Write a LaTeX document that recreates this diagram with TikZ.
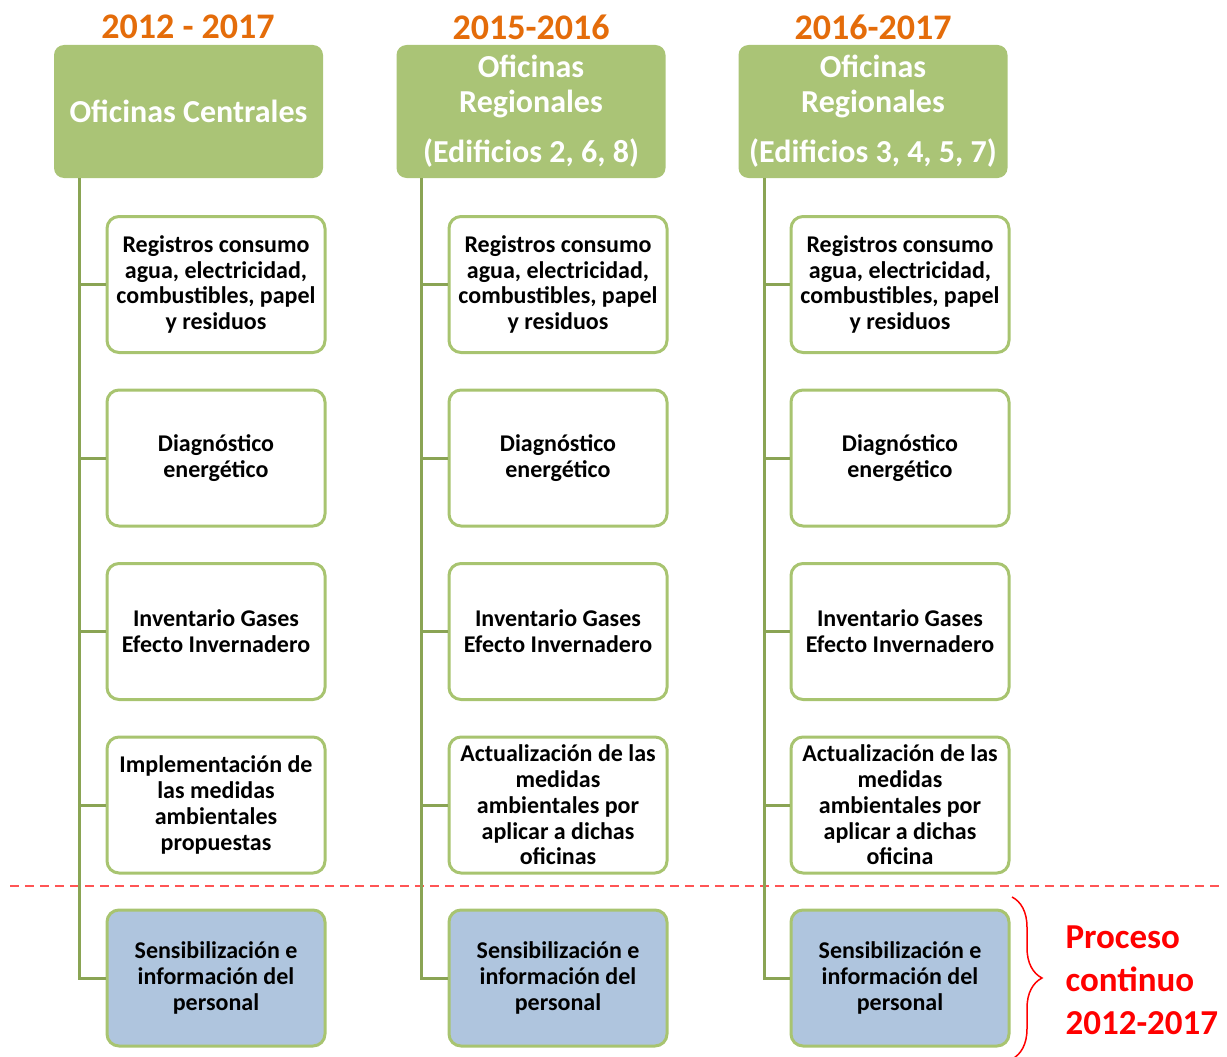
\documentclass[tikz,border=0pt]{standalone}
\usepackage{fontspec}
\setmainfont{Carlito}
\usetikzlibrary{decorations.pathreplacing}
\usepackage{xcolor}
\definecolor{hdrgreen}{RGB}{170,196,118}
\definecolor{boxgreen}{RGB}{168,196,112}
\definecolor{trunkgreen}{RGB}{138,164,84}
\definecolor{staffblue}{RGB}{175,197,222}
\definecolor{yearorange}{RGB}{228,108,10}
\definecolor{sepred}{RGB}{255,85,85}
\definecolor{procred}{RGB}{255,0,0}

\begin{document}
\begin{tikzpicture}[x=1pt, y=-1pt,
  year/.style={text=yearorange, font=\fontsize{36}{40}\selectfont\bfseries},
  header/.style={rectangle, rounded corners=10pt, fill=hdrgreen, minimum width=269pt, minimum height=133pt, inner sep=0pt, text=white, align=center, font=\fontsize{32}{35}\selectfont\bfseries},
  task/.style={rectangle, rounded corners=12pt, draw=boxgreen, line width=3pt, fill=white, minimum width=218pt, minimum height=136pt, inner sep=0pt, align=center, font=\fontsize{24}{25.7}\selectfont\bfseries},
  staff/.style={task, fill=staffblue},
  trunk/.style={draw=trunkgreen, line width=3pt},
  sepline/.style={draw=sepred, line width=1.5pt, dash pattern=on 9pt off 6pt},
  proc/.style={text=procred, align=left, font=\fontsize{35}{43}\selectfont\bfseries}]
\useasboundingbox (0,0) rectangle (1227,1057);

% Oficinas Centrales
\node[year] (Y1) at (188,27) {2012 - 2017};
\node[header] (H1) at (188.5,111.5) {Oficinas Centrales};
\coordinate (T1) at (79,178);

% Oficinas Regionales (2, 6, 8)
\node[year] (Y2) at (531,27) {2015-2016};
\node[header] (H2) at (531,111.5) {Oficinas\\Regionales\\[15pt](Edificios 2, 6, 8)};
\coordinate (T2) at (421,178);

% Oficinas Regionales (3, 4, 5, 7)
\node[year] (Y3) at (873,27) {2016-2017};
\node[header] (H3) at (873,111.5) {Oficinas\\Regionales\\[15pt](Edificios 3, 4, 5, 7)};
\coordinate (T3) at (764,178);

% Tasks
\foreach \c/\x in {1/216,2/558,3/900} {
    \node[task] (C\c1) at (\x,284.5) {Registros consumo\\agua, electricidad,\\combustibles, papel\\y residuos};
    \node[task] (C\c2) at (\x,458) {Diagnóstico\\energético};
    \node[task] (C\c3) at (\x,631.5) {Inventario Gases\\Efecto Invernadero};
    \node[staff] (C\c5) at (\x,978) {Sensibilización e\\información del\\personal};
}
\node[task] (C14) at (216,805) {Implementación de\\las medidas\\ambientales\\propuestas};
\node[task] (C24) at (558,805) {Actualización de las\\medidas\\ambientales por\\aplicar a dichas\\oficinas};
\node[task] (C34) at (900,805) {Actualización de las\\medidas\\ambientales por\\aplicar a dichas\\oficina};

% Separator
\draw[sepline] (10,886) -- (1220,886);

% Connections
\foreach \c in {1,2,3}
    \foreach \r in {1,2,3,4,5}
        \draw[trunk] (T\c) |- (C\c\r.west);

% Continuous process
\coordinate (B1) at (1012,897);
\coordinate (B2) at (1012,1059);
\draw[procred, line width=1.5pt, decorate, decoration={brace, amplitude=30pt}] (B1) -- (B2);
\node[proc, anchor=west] (P) at (1062,980) {Proceso\\continuo\\2012-2017};

\end{tikzpicture}
\end{document}
